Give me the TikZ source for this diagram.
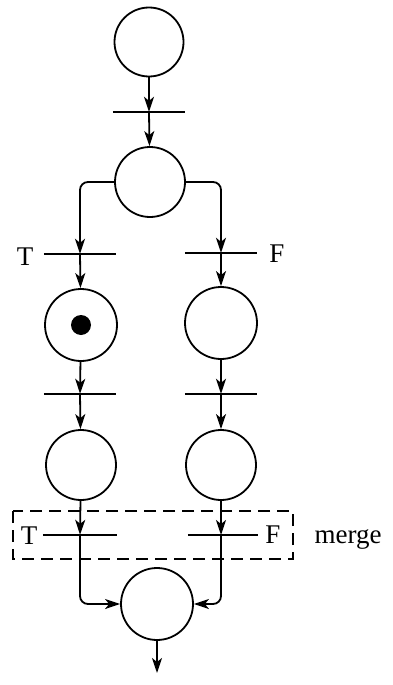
\documentclass[tikz,border=0pt]{standalone}
\usepackage{fontspec}
\setmainfont{Liberation Serif}
\usetikzlibrary{arrows.meta}
\tikzset{
  place/.style={circle,draw,line width=1.8pt,inner sep=0pt},
  bar/.style={rectangle,draw=none,minimum width=72pt,minimum height=0pt,inner sep=0pt},
  barline/.style={line width=1.6pt},
  arr/.style={line width=1.8pt,-{Stealth[length=15pt,width=10pt,inset=4pt]}},
  lbl/.style={font=\fontsize{27}{30}\selectfont,inner sep=0pt},
  token/.style={circle,fill=black,inner sep=0pt,minimum size=20pt}
}
\begin{document}
\begin{tikzpicture}[x=1pt,y=-1pt]
\useasboundingbox (0,0) rectangle (392,685);
% places
\node[place,minimum size=69pt] (p1) at (149,42) {};
\node[place,minimum size=70pt] (p2) at (150,182) {};
\node[place,minimum size=72pt] (pT) at (81,325) {};
\node[token] (tok) at (81,325) {};
\node[place,minimum size=72pt] (pF) at (221,323) {};
\node[place,minimum size=70pt] (qT) at (81,465) {};
\node[place,minimum size=70pt] (qF) at (221,465) {};
\node[place,minimum size=72pt] (p6) at (157,604) {};
% transitions
\node[bar] (t1) at (149,112) {};
\node[bar] (tT) at (80,254) {};
\node[bar] (tF) at (221,253) {};
\node[bar] (uT) at (80,394) {};
\node[bar] (uF) at (221,394) {};
\node[bar,minimum width=74pt] (mT) at (80,535) {};
\node[bar,minimum width=70pt] (mF) at (223,535) {};
\foreach \t in {t1,tT,tF,uT,uF,mT,mF}{\draw[barline] (\t.west) -- (\t.east);}
% labels
\node[lbl] (lT1) at (25,257) {T};
\node[lbl] (lF1) at (277,254) {F};
\node[lbl] (lT2) at (29,536) {T};
\node[lbl] (lF2) at (273,535) {F};
\node[lbl,anchor=base] (lm) at (348,543) {merge};
% merge box
\draw[line width=1.5pt,dash pattern=on 12pt off 7pt] (13,511) rectangle (293,559);
% arcs
\draw[arr] (p1) -- (t1);
\draw[arr] (t1) -- (p2);
\draw[arr,rounded corners=8pt] (p2.west) -| (tT);
\draw[arr,rounded corners=8pt] (p2.east) -| (tF);
\draw[arr] (tT) -- (pT);
\draw[arr] (tF) -- (pF);
\draw[arr] (pT) -- (uT);
\draw[arr] (pF) -- (uF);
\draw[arr] (uT) -- (qT);
\draw[arr] (uF) -- (qF);
\draw[arr] (qT) -- (mT);
\draw[arr] (qF) -- (mF.center -| qF);
\draw[arr,rounded corners=8pt] (mT) |- (p6);
\draw[arr,rounded corners=8pt] (mF.center -| qF) |- (p6);
\coordinate (out) at (157,673);
\draw[arr] (p6) -- (out);
\end{tikzpicture}
\end{document}
